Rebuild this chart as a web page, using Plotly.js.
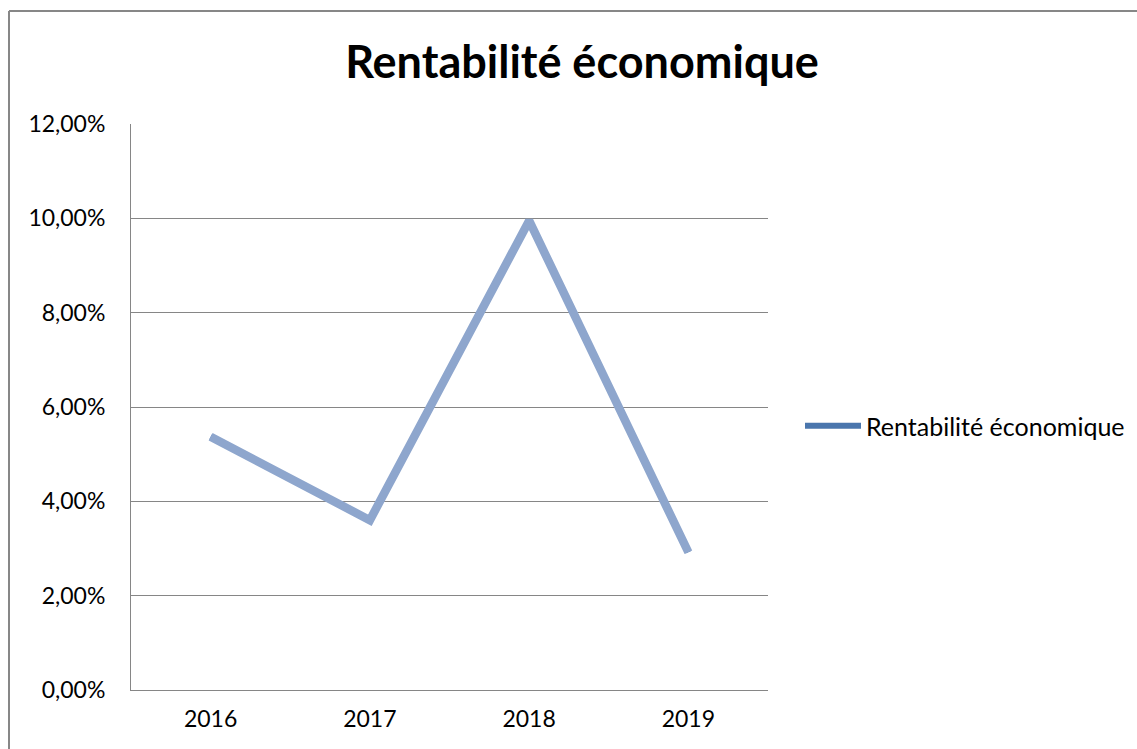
<!DOCTYPE html>
<html>
<head>
<meta charset="utf-8">
<script src="https://cdn.plot.ly/plotly-3.0.1.min.js"></script>
<style>
html,body{margin:0;padding:0;background:#fff;}
#chart{width:1137px;height:749px;}
</style>
</head>
<body>
<div id="chart"></div>
<script>
const years = ['2016', '2017', '2018', '2019'];
const rentabilite = [0.0537, 0.036, 0.0995, 0.0292];
const seriesName = 'Rentabilité économique';
const chartTitle = 'Rentabilité économique';
const yTicks = [0, 0.02, 0.04, 0.06, 0.08, 0.10, 0.12];

const W = 1137, H = 749;
const L = 131, R = 768, T = 124, B = 690;
const pw = R - L, ph = B - T;
function px(x){ return (x - L) / pw; }
function py(y){ return (B - y) / ph; }

const font = 'Lato, "Open Sans", sans-serif';

const traces = [
  {
    x: years, y: rentabilite, type: 'scatter', mode: 'lines',
    name: seriesName,
    line: {color: '#4A76AD', width: 6},
    showlegend: true, hoverinfo: 'skip'
  },
  {
    x: years, y: rentabilite, type: 'scatter', mode: 'lines',
    name: seriesName,
    line: {color: '#8EA6CD', width: 8.5},
    showlegend: false
  }
];

const layout = {
  width: W, height: H,
  margin: {l: L, r: W - R, t: T, b: H - B, pad: 0},
  paper_bgcolor: '#fff', plot_bgcolor: '#fff',
  separators: ', ',
  font: {family: font, color: '#000', size: 23},
  title: {
    text: '<b>' + chartTitle + '</b>',
    font: {family: font, size: 45, color: '#000'},
    x: 582 / W, xref: 'container', xanchor: 'center',
    y: 1 - 62 / H, yref: 'container', yanchor: 'middle'
  },
  xaxis: {
    type: 'category', range: [-0.5, 3.5],
    showgrid: false, zeroline: false,
    showline: true, linecolor: '#868686', linewidth: 1,
    ticks: 'outside', ticklen: 8, tickcolor: 'rgba(0,0,0,0)',
    tickfont: {family: font, size: 23, color: '#000'},
    automargin: false,
    fixedrange: true
  },
  yaxis: {
    range: [0, 0.12], tickvals: yTicks, tickformat: '.2%',
    showgrid: true, gridcolor: '#868686', gridwidth: 1,
    zeroline: false,
    showline: true, linecolor: '#868686', linewidth: 1,
    ticks: 'outside', ticklen: 20, tickcolor: 'rgba(0,0,0,0)',
    tickfont: {family: font, size: 23, color: '#000'},
    automargin: false,
    fixedrange: true
  },
  showlegend: true,
  legend: {
    xref: 'container', yref: 'container',
    x: 800 / W, xanchor: 'left', y: 1 - 426 / H, yanchor: 'middle',
    itemwidth: 56,
    font: {family: font, size: 25, color: '#000'},
    bgcolor: 'rgba(0,0,0,0)', borderwidth: 0
  },
  shapes: [
    {type: 'line', xref: 'paper', yref: 'paper',
     x0: px(9), x1: px(1140), y0: py(11), y1: py(11),
     line: {color: '#878787', width: 2}},
    {type: 'line', xref: 'paper', yref: 'paper',
     x0: px(9), x1: px(9), y0: py(11), y1: py(760),
     line: {color: '#878787', width: 2}}
  ]
};

Plotly.newPlot('chart', traces, layout, {displayModeBar: false, staticPlot: true});
</script>
</body>
</html>
